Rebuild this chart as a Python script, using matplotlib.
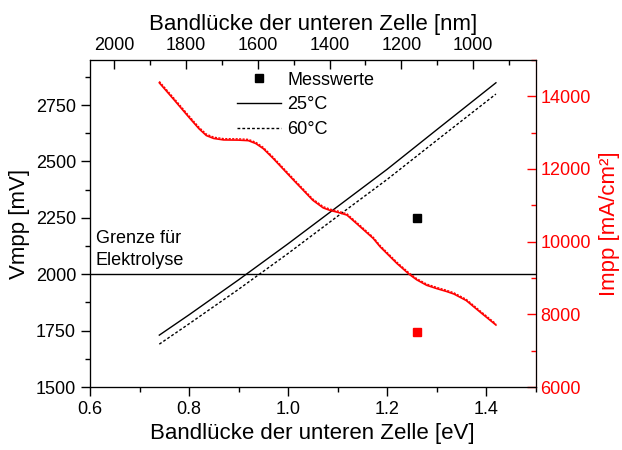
import matplotlib
matplotlib.use("Agg")
import matplotlib.pyplot as plt
from matplotlib.ticker import MultipleLocator
from matplotlib.lines import Line2D

plt.rcParams['font.family'] = ['Liberation Sans', 'DejaVu Sans']

# Data
E_v = [0.74, 0.80, 0.90, 1.00, 1.10, 1.20, 1.30, 1.42]
V_25 = [1730, 1820, 1975, 2135, 2300, 2465, 2640, 2849]
V_60 = [1690, 1780, 1933, 2092, 2257, 2420, 2593, 2799]

E_i = [0.740, 0.770, 0.800, 0.820, 0.835, 0.850, 0.870, 0.900, 0.920, 0.935,
       0.950, 0.970, 1.011, 1.050, 1.071, 1.085, 1.100, 1.119, 1.140, 1.172,
       1.186, 1.220, 1.245, 1.260, 1.280, 1.300, 1.320, 1.335, 1.360, 1.390,
       1.420]
I_25 = [14372, 13900, 13420, 13110, 12920, 12840, 12800, 12795, 12780, 12700,
        12560, 12290, 11695, 11140, 10930, 10860, 10810, 10732, 10480, 10090,
        9860, 9400, 9100, 8950, 8800, 8710, 8630, 8560, 8380, 8040,
        7706]
I_60 = [14410, 13940, 13460, 13150, 12960, 12875, 12835, 12830, 12815, 12735,
        12595, 12325, 11730, 11175, 10965, 10895, 10845, 10766, 10515, 10124,
        9894, 9434, 9134, 8984, 8833, 8743, 8663, 8593, 8413, 8073,
        7738]

meas_E = [1.26]
meas_V = [2250]
meas_I = [7500]

limit_V = 2000

fig = plt.figure(figsize=(6.22, 4.5), dpi=100)
ax = fig.add_axes([0.1447, 0.14, 0.7163, 0.7267])

ax.plot(E_v, V_25, color='black', lw=1.0, label='25°C')
ax.plot(E_v, V_60, color='black', lw=1.0, linestyle=(0, (2, 1.5)), label='60°C')
ax.axhline(limit_V, color='black', lw=1.0)
ax.plot(meas_E, meas_V, 's', color='black', ms=5.5, label='Messwerte')

ax.set_xlim(0.6, 1.5)
ax.set_ylim(1500, 2950)
ax.xaxis.set_minor_locator(MultipleLocator(0.1))
ax.yaxis.set_major_locator(MultipleLocator(250))
ax.yaxis.set_minor_locator(MultipleLocator(125))
ax.set_xticks([0.6, 0.8, 1.0, 1.2, 1.4])
ax.set_xticklabels(['0.6', '0.8', '1.0', '1.2', '1.4'])
ax.tick_params(axis='both', which='major', direction='out', length=6.5, width=1, labelsize=13)
ax.tick_params(axis='both', which='minor', direction='out', length=3.5, width=1)
ax.tick_params(axis='x', top=False)
ax.tick_params(axis='y', right=False)
ax.set_xlabel('Bandlücke der unteren Zelle [eV]', fontsize=16, labelpad=4)
ax.set_ylabel('Vmpp [mV]', fontsize=16, labelpad=4)

ax.text(0.612, 2108, 'Grenze für\nElektrolyse', fontsize=13, ha='left', va='center',
        linespacing=1.37)

# Right axis
ax2 = ax.twinx()
ax2.plot(E_i, I_25, color='red', lw=1.2)
ax2.plot(E_i, I_60, color='red', lw=1.0, linestyle=(0, (1.5, 1)))
ax2.plot(meas_E, meas_I, 's', color='red', ms=5.5)
ax2.set_ylim(6000, 15000)
ax2.yaxis.set_major_locator(MultipleLocator(2000))
ax2.yaxis.set_minor_locator(MultipleLocator(1000))
ax2.tick_params(axis='y', which='major', direction='in', length=6.5, width=1,
                colors='red', labelsize=13)
ax2.tick_params(axis='y', which='minor', direction='in', length=3.5, width=1, colors='red')
ax2.spines['right'].set_color('red')
ax2.set_ylabel('Impp [mA/cm²]', fontsize=16, color='red', labelpad=6)

# Top axis
ax3 = ax.twiny()
ax3.set_xlim(1240 / 0.6, 1240 / 1.5)
ax3.xaxis.set_major_locator(MultipleLocator(200))
ax3.xaxis.set_minor_locator(MultipleLocator(100))
ax3.tick_params(axis='x', which='major', direction='in', length=6.5, width=1, labelsize=13, pad=4)
ax3.tick_params(axis='x', which='minor', direction='in', length=3.5, width=1)
ax3.set_xlabel('Bandlücke der unteren Zelle [nm]', fontsize=16, labelpad=5)

handles = [Line2D([], [], marker='s', color='black', linestyle='none', ms=5.5),
           Line2D([], [], color='black', lw=1.0),
           Line2D([], [], color='black', lw=1.0, linestyle=(0, (2, 1.5)))]
ax.legend(handles, ['Messwerte', '25°C', '60°C'], loc='upper left',
          bbox_to_anchor=(0.33, 0.964), frameon=False, fontsize=13,
          handlelength=2.45, handletextpad=0.35, labelspacing=0.42,
          borderpad=0, borderaxespad=0)

fig.savefig('out.png', dpi=100)
